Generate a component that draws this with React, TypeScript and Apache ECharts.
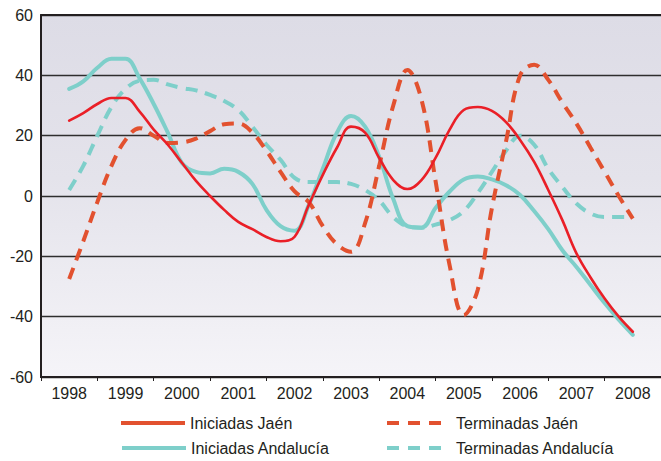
import React, { useEffect, useRef } from "react";
import * as echarts from "echarts";

const years = ["1998", "1999", "2000", "2001", "2002", "2003", "2004", "2005", "2006", "2007", "2008"];

// quarterly positions 1998.00 .. 2008.00
const quarters = [
  1998, 1998.25, 1998.5, 1998.75, 1999, 1999.25, 1999.5, 1999.75, 2000, 2000.25, 2000.5, 2000.75,
  2001, 2001.25, 2001.5, 2001.75, 2002, 2002.25, 2002.5, 2002.75, 2003, 2003.25, 2003.5, 2003.75,
  2004, 2004.25, 2004.5, 2004.75, 2005, 2005.25, 2005.5, 2005.75, 2006, 2006.25, 2006.5, 2006.75,
  2007, 2007.25, 2007.5, 2007.75, 2008,
];

const iniciadasJaen = [
  25, 27.5, 30.5, 32.5, 32.5, 28, 22, 17, 11, 5, 0, -4.6,
  -8.6, -11, -13.6, -15, -13.5, -3, 7, 16, 23, 21, 12.6, 5.3,
  2.3, 5.3, 12.6, 22, 28.5, 29.5, 28.2, 24.5, 18.6, 11.3, 2, -8,
  -19, -27, -34, -40, -45,
];

const iniciadasAndalucia = [
  35.5, 38, 42.5, 45.5, 45.5, 39, 30.5, 21, 11, 8, 7.5, 9,
  8, 4, -4.6, -10, -11.5, -3, 9, 21, 26.5, 23, 13, -1,
  -10, -10.5, -4, 1.5, 5.5, 6.5, 5.5, 3.6, 0.3, -5, -11, -18,
  -23.5, -29.5, -35.5, -41, -46,
];

const terminadasJaen = [
  -27.5, -15, -2, 10, 18.6, 22.5, 20, 17.6, 17.8, 19, 21.5, 23.8,
  24, 21, 15, 8, 1.5, -2, -10, -16, -18.5, -9, 10, 30,
  41.8, 32, 5, -23, -39.5, -31, -4, 18, 40, 43.5, 38.5, 31,
  24, 16, 8, 0, -7.5,
];

const terminadasAndalucia = [
  2, 10, 20, 29.5, 35.5, 38.2, 38.5, 37, 35.8, 35, 33.5, 31.5,
  28.5, 23, 17, 12, 6, 4.6, 4.6, 4.6, 4, 2, -1.5, -7,
  -10, -10.5, -9.5, -8, -5, 1, 8, 15, 20, 17, 9, 3,
  -2.5, -5.8, -7, -7, -7,
];

const yTicks = { min: -60, max: 60, interval: 20 };

const legendNames = ["Iniciadas Jaén", "Terminadas Jaén", "Iniciadas Andalucía", "Terminadas Andalucía"];

const RED = "#ea1f27";
const ORANGE = "#e2512f";
const TEAL = "#7ecfca";
const TEXT = "#231f20";
const FONT = "Liberation Sans, Arial, sans-serif";
const DASH = [12, 8];

const pairs = (vals: number[]) => quarters.map((q, i) => [q, vals[i]]);

export default function App() {
  const ref = useRef<HTMLDivElement>(null);
  useEffect(() => {
    if (!ref.current) return;
    const chart = echarts.init(ref.current, null, { renderer: "svg" });
    const lineSeries = (name: string, vals: number[], color: string, width: number, dashed: boolean) => ({
      name,
      type: "line",
      xAxisIndex: 0,
      yAxisIndex: 0,
      data: pairs(vals),
      smooth: 0.4,
      showSymbol: false,
      symbol: "none",
      lineStyle: dashed
        ? { color, width, type: DASH, cap: "butt" }
        : { color, width, cap: "round" },
      itemStyle: { color },
      z: 3,
    });
    const legendItem = (name: string, x: number, y: number, color: string, dashed: boolean) => [
      {
        type: "line",
        shape: { x1: x, y1: y, x2: x + (dashed ? 54 : 64), y2: y },
        style: { stroke: color, lineWidth: 4, lineDash: dashed ? [12, 9] : null },
      },
      {
        type: "text",
        x: x + (dashed ? 69 : 69),
        y,
        style: {
          text: name,
          fill: TEXT,
          font: `16px ${FONT}`,
          verticalAlign: "middle",
          align: "left",
        },
      },
    ];
    chart.setOption({
      animation: false,
      textStyle: { fontFamily: FONT },
      grid: {
        left: 41,
        top: 15,
        width: 625,
        height: 362,
        show: true,
        borderWidth: 0,
        backgroundColor: new echarts.graphic.LinearGradient(0, 0, 0, 1, [
          { offset: 0, color: "#dddce6" },
          { offset: 0.45, color: "#e4e3eb" },
          { offset: 1, color: "#f5f4f8" },
        ]),
      },
      xAxis: [
        { type: "value", min: 1997.5, max: 2008.5, show: false },
        {
          type: "category",
          data: years,
          position: "bottom",
          boundaryGap: true,
          axisLine: { show: true, onZero: false, lineStyle: { color: TEXT, width: 2 } },
          axisTick: { show: false },
          axisLabel: { color: TEXT, fontSize: 16, margin: 8, fontFamily: FONT },
          splitLine: { show: false },
        },
        {
          type: "category",
          data: years,
          position: "bottom",
          boundaryGap: true,
          axisLine: { show: true, onZero: true, lineStyle: { color: TEXT, width: 2 } },
          axisTick: { show: true, length: 4, lineStyle: { color: TEXT, width: 1 } },
          axisLabel: { show: false },
          splitLine: { show: false },
        },
        {
          type: "category",
          data: years,
          position: "top",
          axisLine: { show: true, onZero: false, lineStyle: { color: TEXT, width: 2 } },
          axisTick: { show: false },
          axisLabel: { show: false },
        },
      ],
      yAxis: [
        {
          type: "value",
          min: yTicks.min,
          max: yTicks.max,
          interval: yTicks.interval,
          axisLine: { show: true, lineStyle: { color: TEXT, width: 2 } },
          axisTick: { show: false },
          axisLabel: { color: TEXT, fontSize: 16, margin: 8, fontFamily: FONT },
          splitLine: { show: true, lineStyle: { color: "#2e2e2e", width: 1.4 } },
        },
      ],
      graphic: [
        ...legendItem(legendNames[0], 121, 423, ORANGE, false),
        ...legendItem(legendNames[1], 387, 423, ORANGE, true),
        ...legendItem(legendNames[2], 122, 448, TEAL, false),
        ...legendItem(legendNames[3], 387, 448, TEAL, true),
      ],
      series: [
        lineSeries("Terminadas Andalucía", terminadasAndalucia, TEAL, 4, true),
        lineSeries("Iniciadas Andalucía", iniciadasAndalucia, TEAL, 4, false),
        lineSeries("Terminadas Jaén", terminadasJaen, ORANGE, 4, true),
        lineSeries("Iniciadas Jaén", iniciadasJaen, RED, 2.6, false),
      ],
    });
    return () => chart.dispose();
  }, []);
  return <div ref={ref} style={{ width: 661, height: 461, position: "absolute", left: 0, top: 0 }} />;
}
